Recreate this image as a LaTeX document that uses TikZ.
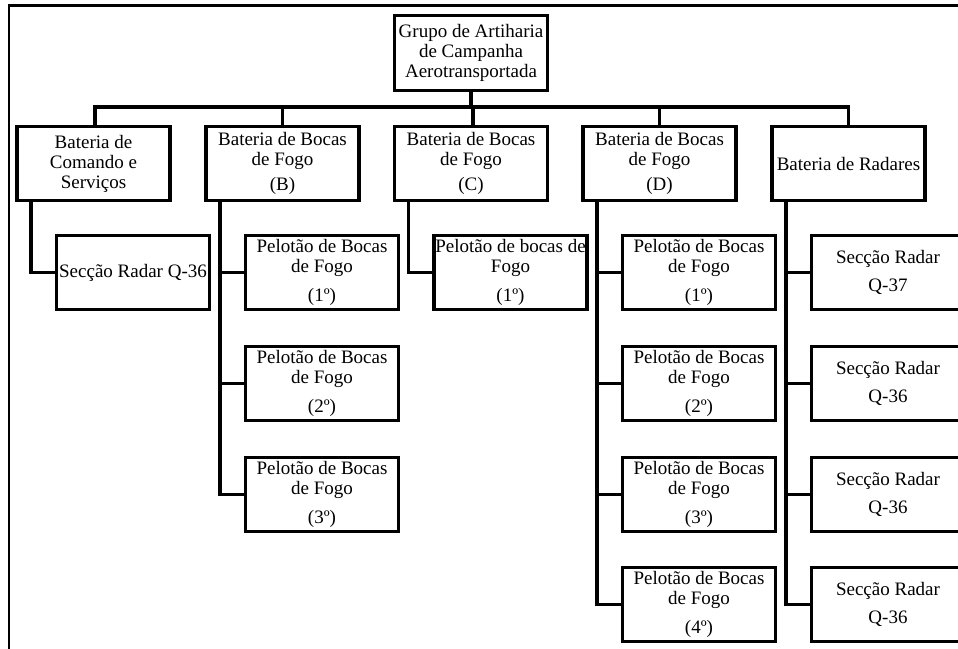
\documentclass[tikz,border=0pt]{standalone}
\usepackage{fontspec}
\setmainfont{Liberation Serif}
\begin{document}
\begin{tikzpicture}[x=1pt,y=-1pt,
  box/.style={draw, line width=3.2pt, minimum width=153pt, minimum height=74.5pt,
    inner sep=0pt, align=center, font=\fontsize{19}{20}\selectfont},
  link/.style={line width=3.2pt},
  frame/.style={line width=2.2pt}]
\path[use as bounding box, clip] (0,0) rectangle (958,648);

% outer frame (only the top and left sides fall inside the page)
\draw[frame] (8.7,680) |- (990,5.5);

% head unit
\node[box] (top) at (471,53) {Grupo de Artiharia\\de Campanha\\Aerotransportada};

% batteries
\node[box] (bcs) at (93.5,163.5) {Bateria de\\Comando e\\Serviços};
\node[box] (bb)  at (282.5,163.5) {Bateria de Bocas\\de Fogo\\[5pt](B)};
\node[box] (bc)  at (471,163.5) {Bateria de Bocas\\de Fogo\\[5pt](C)};
\node[box] (bd)  at (659.5,163.5) {Bateria de Bocas\\de Fogo\\[5pt](D)};
\node[box] (br)  at (848.5,163.5) {Bateria de Radares};

% sub-units
\node[box] (s1) at (133,272.5) {Secção Radar Q-36};

\node[box] (b1) at (322,272.5) {Pelotão de Bocas\\de Fogo\\[9pt](1º)};
\node[box] (b2) at (322,383.5) {Pelotão de Bocas\\de Fogo\\[9pt](2º)};
\node[box] (b3) at (322,494.5) {Pelotão de Bocas\\de Fogo\\[9pt](3º)};

\node[box] (c1) at (510.5,272.5) {Pelotão de bocas de\\Fogo\\[9pt](1º)};

\node[box] (d1) at (699,272.5) {Pelotão de Bocas\\de Fogo\\[9pt](1º)};
\node[box] (d2) at (699,383.5) {Pelotão de Bocas\\de Fogo\\[9pt](2º)};
\node[box] (d3) at (699,494.5) {Pelotão de Bocas\\de Fogo\\[9pt](3º)};
\node[box] (d4) at (699,604.5) {Pelotão de Bocas\\de Fogo\\[9pt](4º)};

\node[box] (r1) at (888,272.5) {Secção Radar\\[8.5pt]Q-37};
\node[box] (r2) at (888,383.5) {Secção Radar\\[8.5pt]Q-36};
\node[box] (r3) at (888,494.5) {Secção Radar\\[8.5pt]Q-36};
\node[box] (r4) at (888,604.5) {Secção Radar\\[8.5pt]Q-36};

% top-level bus
\coordinate (bus) at (471,107);
\draw[link] (top.south) -- (top.south |- bus);
\draw[link] ([xshift=1.5pt]bcs.north) -- ([xshift=1.5pt]bcs.north |- bus)
  -- (br.north |- bus) -- (br.north);
\draw[link] (bb.north) -- (bb.north |- bus);
\draw[link] ([xshift=2pt]bc.north) -- ([xshift=2pt]bc.north |- bus);
\draw[link] (bd.north) -- (bd.north |- bus);

% branches to sub-units
\foreach \p/\c in {bcs/s1, bb/b1, bb/b2, bb/b3, bc/c1,
                   bd/d1, bd/d2, bd/d3, bd/d4,
                   br/r1, br/r2, br/r3, br/r4}
  \draw[link] ([xshift=15.5pt]\p.south west) |- (\c.west);
\end{tikzpicture}
\end{document}
